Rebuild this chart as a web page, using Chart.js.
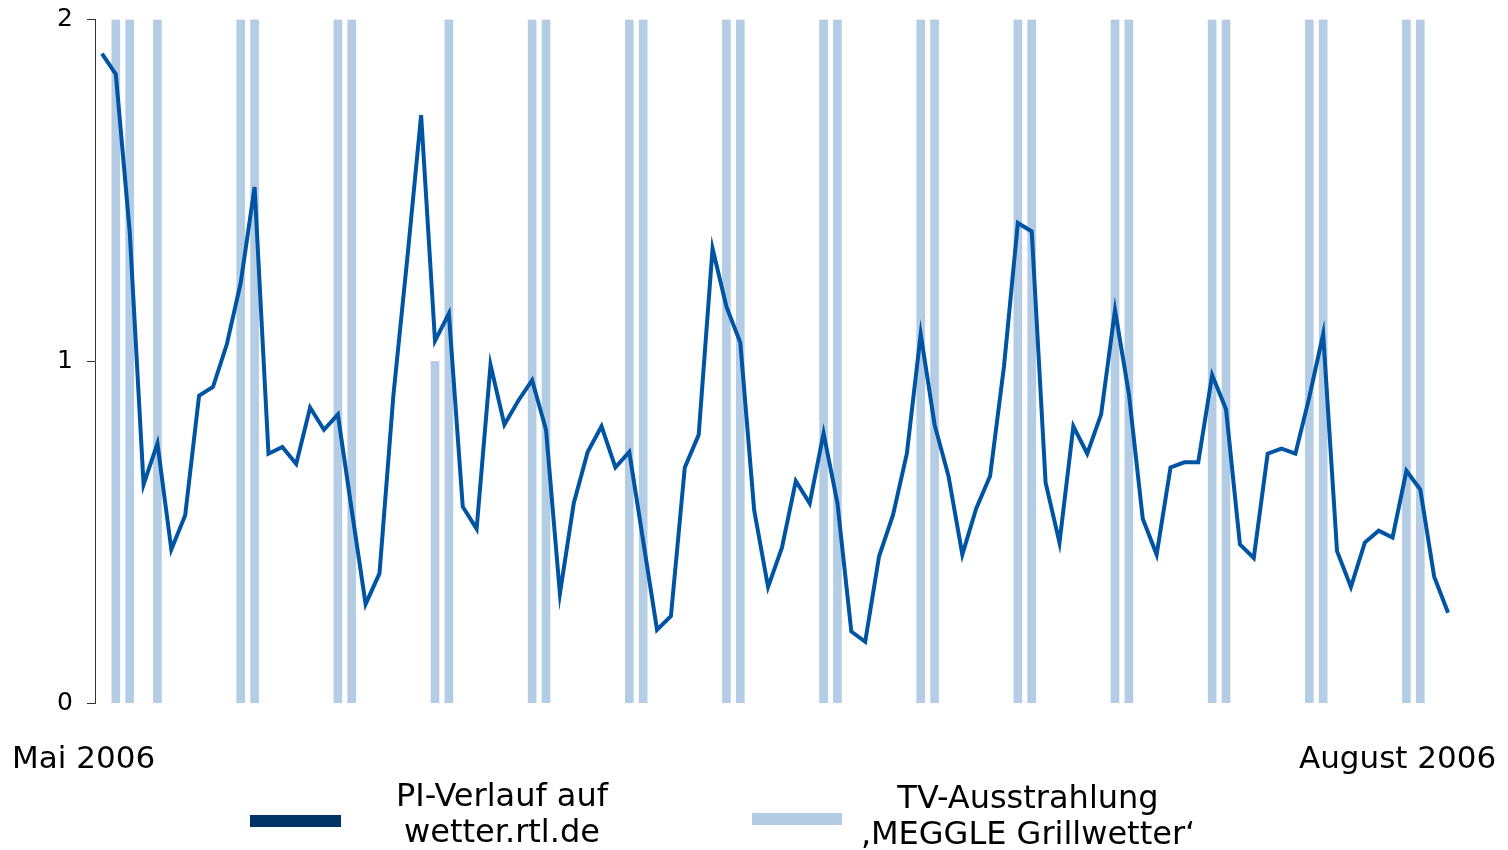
<!DOCTYPE html>
<html lang="de">
<head>
<meta charset="utf-8">
<title>PI-Verlauf wetter.rtl.de</title>
<script src="https://cdn.jsdelivr.net/npm/chart.js@4/dist/chart.umd.min.js"></script>
<style>
    html, body { margin: 0; padding: 0; background: #fff; }
    #wrap { position: relative; width: 1508px; height: 850px; overflow: hidden; }
    #chart { position: absolute; left: 0; top: 0; }
    .lbl { position: absolute; font-family: "DejaVu Sans", Verdana, sans-serif; font-size: 31px; line-height: 31px; color: #000; white-space: nowrap; }
    .leg { position: absolute; font-family: "DejaVu Sans", Verdana, sans-serif; font-size: 32px; line-height: 36px; color: #000; white-space: nowrap; text-align: center; transform: translateX(-50%); }
    .swatch { position: absolute; }
</style>
</head>
<body>
<div id="wrap">
    <canvas id="chart" width="1508" height="850"></canvas>
    <div class="lbl" style="left:12px; top:742px;">Mai 2006</div>
    <div class="lbl" style="left:1299px; top:742px;">August 2006</div>

    <div class="swatch" style="left:250px; top:815px; width:91px; height:12px; background:#003366;"></div>
    <div class="leg" style="left:502px; top:777px;">PI-Verlauf auf<br>wetter.rtl.de</div>

    <div class="swatch" style="left:752px; top:813px; width:90px; height:12px; background:#b4cce4;"></div>
    <div class="leg" style="left:1028px; top:779px;">TV-Ausstrahlung<br>‚MEGGLE Grillwetter‘</div>
</div>

<script>
// --- tage: 1. Mai bis 6. August 2006 ---
const monate = [["Mai", 31], ["Jun", 30], ["Jul", 31], ["Aug", 6]];
const tage = [];
monate.forEach(([m, n]) => { for (let d = 1; d <= n; d++) tage.push(d + ". " + m); });

// PI-Verlauf auf wetter.rtl.de (ein Wert pro Tag)
const piVerlauf = [
    1.90, 1.84, 1.38, 0.64, 0.76, 0.45, 0.55, 0.90, 0.925, 1.05,
    1.23, 1.51, 0.73, 0.75, 0.70, 0.865, 0.80, 0.845, 0.565, 0.29,
    0.38, 0.90, 1.30, 1.72, 1.06, 1.14, 0.575, 0.51, 0.99, 0.815,
    0.885, 0.945, 0.80, 0.32, 0.585, 0.735, 0.81, 0.69, 0.735, 0.475,
    0.215, 0.255, 0.69, 0.785, 1.33, 1.16, 1.055, 0.565, 0.34, 0.455,
    0.65, 0.585, 0.79, 0.585, 0.21, 0.18, 0.43, 0.55, 0.73, 1.08,
    0.815, 0.665, 0.435, 0.57, 0.665, 0.985, 1.405, 1.38, 0.645, 0.47,
    0.81, 0.73, 0.845, 1.15, 0.905, 0.54, 0.435, 0.69, 0.705, 0.705,
    0.96, 0.86, 0.465, 0.425, 0.73, 0.745, 0.73, 0.895, 1.08, 0.445,
    0.34, 0.47, 0.505, 0.485, 0.68, 0.625, 0.37, 0.265
];

// TV-Ausstrahlung 'MEGGLE Grillwetter' (Tag-Index und Balkenhöhe)
const tvTage = [1, 2, 4, 10, 11, 17, 18, 24, 25, 31, 32, 38, 39, 45, 46, 52, 53, 59, 60, 66, 67, 73, 74, 80, 81, 87, 88, 94, 95];
const tvHoehe = [2, 2, 2, 2, 2, 2, 2, 1, 2, 2, 2, 2, 2, 2, 2, 2, 2, 2, 2, 2, 2, 2, 2, 2, 2, 2, 2, 2, 2];

const yTicks = [0, 1, 2];

const tvDaten = tage.map(() => null);
tvTage.forEach((t, i) => { tvDaten[t] = tvHoehe[i]; });

new Chart(document.getElementById('chart'), {
    type: 'bar',
    data: {
        labels: tage,
        datasets: [
            {
                type: 'line',
                label: 'PI-Verlauf auf wetter.rtl.de',
                data: piVerlauf,
                borderColor: '#0054a4',
                borderWidth: 4,
                pointRadius: 0,
                tension: 0,
                order: 0
            },
            {
                type: 'bar',
                label: 'TV-Ausstrahlung',
                data: tvDaten,
                backgroundColor: '#b4cce4',
                barThickness: 8,
                order: 1
            }
        ]
    },
    options: {
        responsive: false,
        animation: false,
        layout: { padding: { left: 0, top: 19.5, right: 53, bottom: 146.7 } },
        plugins: { legend: { display: false }, tooltip: { enabled: false } },
        scales: {
            x: { display: false, offset: true },
            y: {
                min: 0,
                max: 2,
                afterBuildTicks: (s) => { s.ticks = yTicks.map(v => ({ value: v })); },
                afterFit: (s) => { s.width = 95; s.paddingTop = 0; s.paddingBottom = 0; },
                border: { display: true, color: '#333', width: 1 },
                grid: { drawOnChartArea: false, drawTicks: true, tickLength: 8, color: '#333' },
                ticks: {
                    padding: 14,
                    color: '#000',
                    font: { family: 'DejaVu Sans', size: 25 }
                }
            }
        }
    }
});
</script>
</body>
</html>
